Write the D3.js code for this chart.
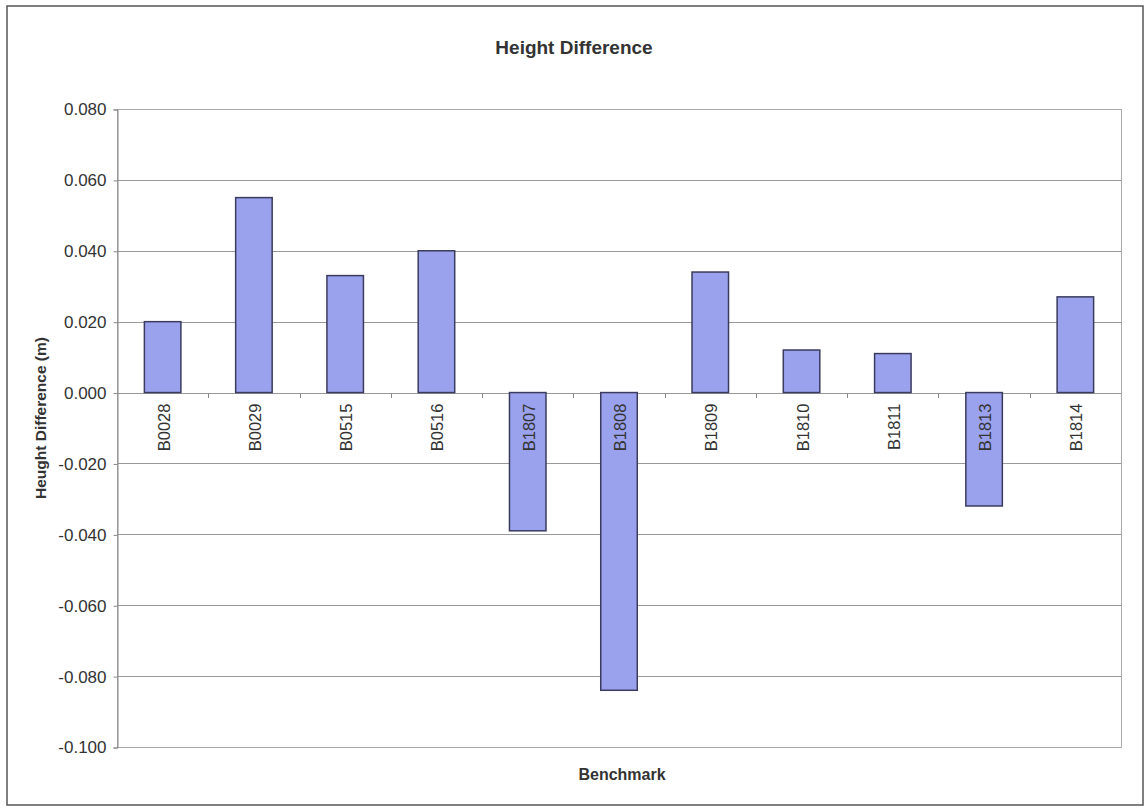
<!DOCTYPE html>
<html>
<head>
<meta charset="utf-8">
<script src="https://cdn.jsdelivr.net/npm/d3@7"></script>
<style>
  html, body { margin: 0; padding: 0; background: #fff; }
  svg { display: block; }
  text { font-family: "Liberation Sans", Arial, sans-serif; fill: #333; }
</style>
</head>
<body>
<svg id="chart" width="1146" height="809"></svg>
<script>
// Benchmark height differences (m)
const benchmarks = ["B0028", "B0029", "B0515", "B0516", "B1807", "B1808", "B1809", "B1810", "B1811", "B1813", "B1814"];
const heightDiff = [0.020, 0.055, 0.033, 0.040, -0.039, -0.084, 0.034, 0.012, 0.011, -0.032, 0.027];
const yTicks = [0.080, 0.060, 0.040, 0.020, 0.000, -0.020, -0.040, -0.060, -0.080, -0.100];

const svg = d3.select("#chart");
const plot = { left: 117, right: 1121, top: 109, bottom: 747 };

// Outer frame
svg.append("rect")
  .attr("x", 7).attr("y", 6).attr("width", 1136).attr("height", 799)
  .attr("fill", "#fff").attr("stroke", "#555").attr("stroke-width", 1.5);

const x = d3.scaleBand().domain(benchmarks).range([plot.left, plot.right]).paddingInner(0.6).paddingOuter(0.3);
const y = d3.scaleLinear().domain([-0.100, 0.080]).range([plot.bottom, plot.top]);

// Horizontal gridlines
svg.append("g").selectAll("line").data(yTicks).join("line")
  .attr("x1", plot.left).attr("x2", plot.right)
  .attr("y1", d => Math.round(y(d)) + 0.5).attr("y2", d => Math.round(y(d)) + 0.5)
  .attr("stroke", "#999").attr("stroke-width", 1);

// Plot area border
svg.append("rect")
  .attr("x", plot.left + 0.5).attr("y", Math.round(y(0.08)) + 0.5)
  .attr("width", plot.right - plot.left).attr("height", Math.round(y(-0.1)) - Math.round(y(0.08)))
  .attr("fill", "none").attr("stroke", "#aaa").attr("stroke-width", 1);

// Y axis
const yAxis = d3.axisLeft(y).tickValues(yTicks).tickFormat(d3.format(".3f")).tickSize(4).tickPadding(7);
const gy = svg.append("g").attr("transform", `translate(${plot.left + 0.5},0.5)`).call(yAxis);
gy.select(".domain").attr("stroke", "#888");
gy.selectAll(".tick line").attr("stroke", "#888");
gy.selectAll(".tick text").attr("font-size", 17).attr("fill", "#333")
  .attr("font-family", "'Liberation Sans', Arial, sans-serif")
  .text(d => d3.format(".3f")(d).replace("−", "-"));

// Category boundary ticks below the zero line
const bounds = d3.range(1, benchmarks.length).map(i => plot.left + i * (plot.right - plot.left) / benchmarks.length);
svg.append("g").selectAll("line").data(bounds).join("line")
  .attr("x1", d => Math.round(d) + 0.5).attr("x2", d => Math.round(d) + 0.5)
  .attr("y1", Math.round(y(0))).attr("y2", Math.round(y(0)) + 5)
  .attr("stroke", "#888");

// Bars
const bw = (plot.right - plot.left) / benchmarks.length * 0.4;
svg.append("g").selectAll("rect").data(benchmarks).join("rect")
  .attr("x", d => x(d) + x.bandwidth() / 2 - bw / 2)
  .attr("width", bw)
  .attr("y", (d, i) => y(Math.max(0, heightDiff[i])))
  .attr("height", (d, i) => Math.abs(y(heightDiff[i]) - y(0)))
  .attr("fill", "#9aa2ee").attr("stroke", "#3b3b5e").attr("stroke-width", 1.5);

// Category labels, rotated
svg.append("g").selectAll("text").data(benchmarks).join("text")
  .attr("transform", d => `translate(${x(d) + x.bandwidth() / 2 + 7},${y(0) + 11}) rotate(-90)`)
  .attr("text-anchor", "end")
  .attr("font-size", 16.5)
  .text(d => d);

// Titles
svg.append("text").attr("x", 574).attr("y", 54).attr("text-anchor", "middle")
  .attr("font-size", 19).attr("font-weight", "bold").text("Height Difference");
svg.append("text").attr("x", 622).attr("y", 780).attr("text-anchor", "middle")
  .attr("font-size", 16).attr("font-weight", "bold").text("Benchmark");
svg.append("text").attr("transform", `translate(46,418) rotate(-90)`)
  .attr("text-anchor", "middle").attr("font-size", 15.5).attr("font-weight", "bold")
  .text("Heught Difference (m)");
</script>
</body>
</html>
